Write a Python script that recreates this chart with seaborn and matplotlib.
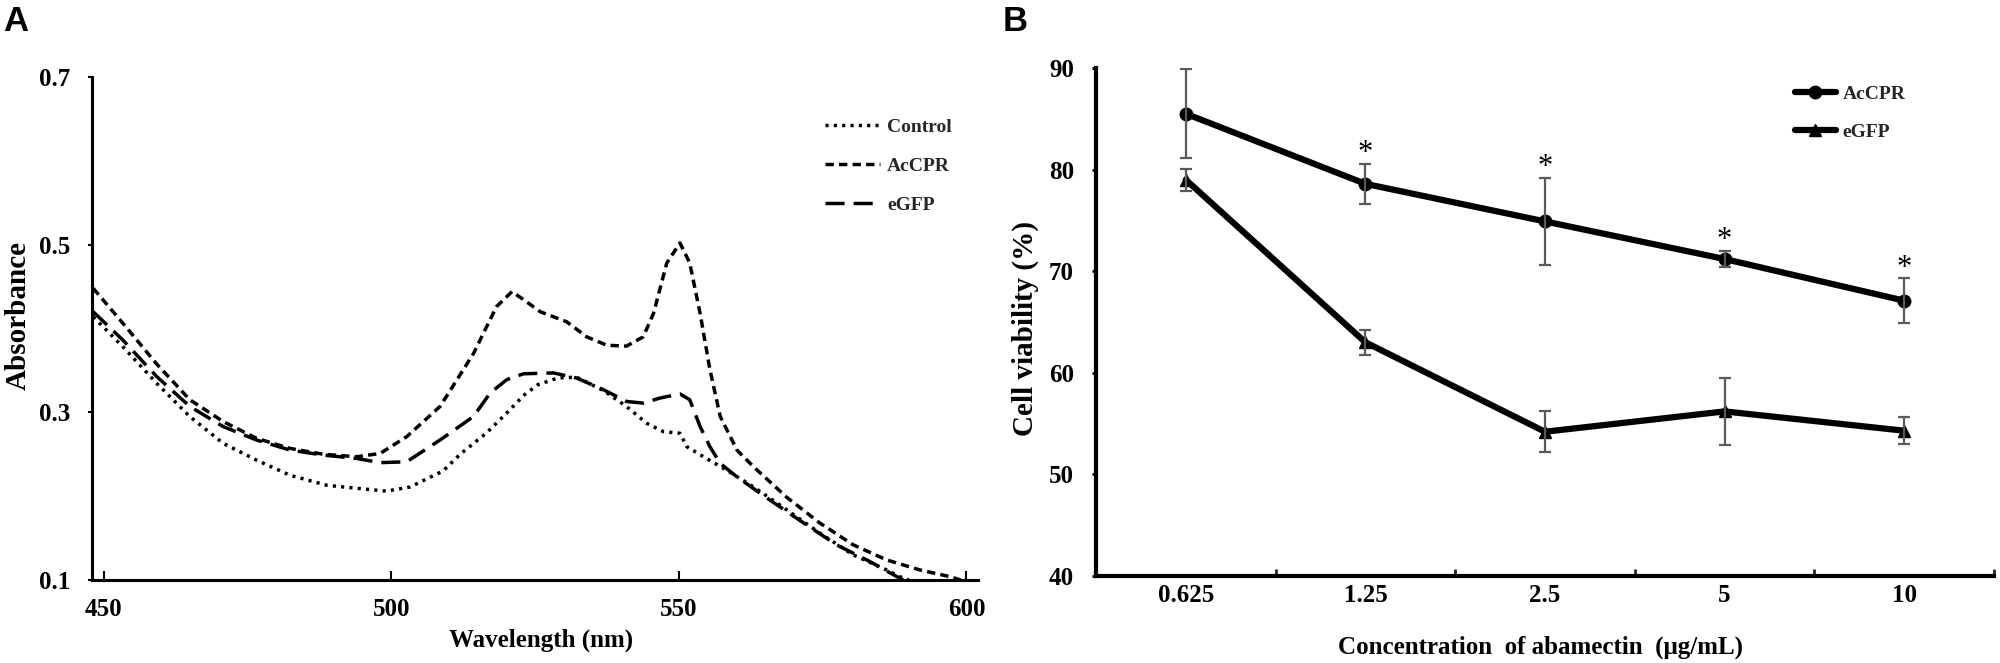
import numpy as np
import pandas as pd
import matplotlib
matplotlib.use("Agg")
import matplotlib.pyplot as plt
import seaborn as sns

# ---------------- Panel A data ----------------
ctrl_wl = [448.2, 453.4, 459.2, 465.0, 470.8, 476.6, 482.4, 488.8, 494.6, 499.2,
           503.3, 509.0, 512.0, 516.5, 520.5, 523.0, 525.5, 529.0, 532.2, 536.9,
           540.9, 544.4, 547.3, 550.2, 551.4, 554.3, 558.3, 563.0, 568.7, 574.5,
           580.3, 586.1, 588.4, 590.0]
ctrl_abs = [0.414, 0.378, 0.335, 0.295, 0.263, 0.243, 0.225, 0.213, 0.209, 0.206,
            0.211, 0.230, 0.250, 0.275, 0.302, 0.320, 0.333, 0.341, 0.342, 0.326,
            0.307, 0.287, 0.277, 0.275, 0.259, 0.247, 0.231, 0.211, 0.184, 0.156,
            0.130, 0.112, 0.104, 0.100]

accpr_wl = [448.2, 453.4, 459.2, 465.0, 470.8, 476.6, 482.4, 488.2, 494.0, 498.1,
            502.7, 508.5, 514.3, 518.3, 521.0, 523.5, 525.9, 530.5, 534.0, 537.5,
            540.9, 543.8, 545.6, 547.9, 550.2, 551.9, 553.7, 555.4, 557.2, 560.1,
            563.0, 568.7, 574.5, 580.3, 586.1, 591.9, 597.1, 599.0]
accpr_abs = [0.448, 0.406, 0.358, 0.315, 0.289, 0.269, 0.257, 0.250, 0.247, 0.251,
             0.271, 0.307, 0.370, 0.426, 0.444, 0.432, 0.420, 0.408, 0.390, 0.380,
             0.379, 0.390, 0.418, 0.478, 0.502, 0.478, 0.418, 0.351, 0.295, 0.255,
             0.235, 0.199, 0.168, 0.142, 0.124, 0.112, 0.104, 0.100]

egfp_wl = [448.2, 453.4, 459.2, 465.0, 470.8, 476.6, 482.4, 488.2, 494.0, 498.1,
           502.7, 508.5, 514.3, 517.2, 520.1, 523.0, 528.2, 532.2, 536.9, 540.9,
           543.8, 546.7, 550.2, 551.9, 553.7, 555.4, 557.2, 560.1, 565.9, 571.7,
           577.4, 583.2, 587.9, 589.0]
egfp_abs = [0.420, 0.386, 0.343, 0.307, 0.283, 0.267, 0.255, 0.249, 0.245, 0.240,
            0.241, 0.267, 0.295, 0.323, 0.339, 0.346, 0.347, 0.341, 0.327, 0.313,
            0.311, 0.317, 0.322, 0.315, 0.283, 0.259, 0.239, 0.223, 0.195, 0.168,
            0.142, 0.122, 0.104, 0.100]

a_series = ["Control", "AcCPR", "eGFP"]
a_xticks = [450, 500, 550, 600]
a_yticks = [0.1, 0.3, 0.5, 0.7]

# ---------------- Panel B data ----------------
concentrations = ["0.625", "1.25", "2.5", "5", "10"]
accpr_mean = [85.5, 78.6, 74.9, 71.2, 67.1]
accpr_err = [4.4, 2.0, 4.3, 0.8, 2.2]
egfp_mean = [79.0, 63.0, 54.2, 56.2, 54.3]
egfp_err = [1.1, 1.2, 2.0, 3.3, 1.35]
significant = [False, True, True, True, True]
b_yticks = [40, 50, 60, 70, 80, 90]

# ---------------- style ----------------
sns.set_theme(style="ticks")
plt.rcParams["font.family"] = ["Liberation Serif", "DejaVu Serif"]
plt.rcParams["font.weight"] = "bold"
plt.rcParams["axes.labelweight"] = "bold"

W, H = 2000, 663
fig = plt.figure(figsize=(W / 100, H / 100), dpi=100)
fig.patch.set_facecolor("white")

def fx(px):
    return px / W

def fy(py):
    return 1 - py / H

# ---------------- Panel A ----------------
axA = fig.add_axes([fx(92), fy(580), fx(978) - fx(92), fy(77) - fy(580)])
dfA = pd.concat([
    pd.DataFrame({"Wavelength": ctrl_wl, "Absorbance": ctrl_abs, "Sample": "Control"}),
    pd.DataFrame({"Wavelength": accpr_wl, "Absorbance": accpr_abs, "Sample": "AcCPR"}),
    pd.DataFrame({"Wavelength": egfp_wl, "Absorbance": egfp_abs, "Sample": "eGFP"}),
], ignore_index=True)

dash_map = {"Control": (0.9, 1.5), "AcCPR": (2.4, 1.5), "eGFP": (5.5, 2.6)}
sns.lineplot(data=dfA, x="Wavelength", y="Absorbance", style="Sample",
             style_order=a_series, dashes=dash_map, color="black",
             linewidth=2.5, estimator=None, sort=False, ax=axA)
for ln in axA.get_lines():
    ln.set_dash_capstyle("butt")

axA.set_xlim(448, 602)
axA.set_ylim(0.1, 0.7)
axA.set_xticks(a_xticks)
axA.set_xticklabels([str(v) for v in a_xticks])
axA.set_yticks(a_yticks)
axA.set_yticklabels([f"{v:.1f}" for v in a_yticks])
axA.tick_params(axis="x", direction="in", length=6.5, width=1.5, pad=13,
                labelsize=18, colors="black")
axA.tick_params(axis="y", direction="out", length=3, width=1.5, pad=13,
                labelsize=18, colors="black")
for lab in axA.get_xticklabels() + axA.get_yticklabels():
    lab.set_fontweight("bold")
sns.despine(ax=axA)
for s in ["left", "bottom"]:
    axA.spines[s].set_linewidth(2.2)
    axA.spines[s].set_color("black")

axA.set_xlabel("Wavelength (nm)", fontsize=18, fontweight="bold", color="black")
axA.set_ylabel("Absorbance", fontsize=21, fontweight="bold", color="black")
axA.xaxis.set_label_coords(0.507, -0.097)
axA.yaxis.set_label_coords(-0.068, 0.526)

hA, lA = axA.get_legend_handles_labels()
axA.legend(hA, lA, loc="upper left", bbox_to_anchor=(fx(825), fy(118)),
           bbox_transform=fig.transFigure, frameon=False, borderpad=0,
           borderaxespad=0, handlelength=2.85, handletextpad=0.35,
           labelspacing=1.1, prop={"family": "Liberation Serif", "weight": "bold", "size": 14})

# ---------------- Panel B ----------------
axB = fig.add_axes([fx(1096), fy(576), fx(1994) - fx(1096), fy(68) - fy(576)])
pos = np.arange(len(concentrations))
dfB = pd.concat([
    pd.DataFrame({"pos": pos, "viability": accpr_mean, "group": "AcCPR"}),
    pd.DataFrame({"pos": pos, "viability": egfp_mean, "group": "eGFP"}),
], ignore_index=True)

sns.lineplot(data=dfB, x="pos", y="viability", style="group",
             style_order=["AcCPR", "eGFP"], markers={"AcCPR": "o", "eGFP": "^"},
             dashes=False, color="black", linewidth=4.5, markersize=9,
             markeredgecolor="black", markeredgewidth=1, estimator=None,
             ax=axB, zorder=2)

for m, e in [(accpr_mean, accpr_err), (egfp_mean, egfp_err)]:
    axB.errorbar(pos, m, yerr=e, fmt="none", ecolor="#5a5a5a", elinewidth=1.6,
                 capsize=4, capthick=1.6, zorder=3)

for i, flag in enumerate(significant):
    if flag:
        axB.text(pos[i], accpr_mean[i] + accpr_err[i] + 0.25, "*",
                 ha="center", va="baseline", fontsize=22, fontweight="normal",
                 family="Liberation Serif", color="black")

axB.set_xlim(-0.5, len(concentrations) - 0.5)
axB.set_ylim(40, 90)
axB.set_xticks(pos)
axB.set_xticklabels(concentrations)
axB.set_xticks(np.arange(-0.5, len(concentrations), 1.0), minor=True)
axB.set_yticks(b_yticks)
axB.set_yticklabels([str(v) for v in b_yticks])
axB.tick_params(axis="x", which="major", length=0, pad=6, labelsize=18, colors="black")
axB.tick_params(axis="x", which="minor", direction="in", length=5, width=2)
axB.tick_params(axis="y", direction="out", length=3, width=2, pad=13,
                labelsize=18, colors="black")
for lab in axB.get_xticklabels() + axB.get_yticklabels():
    lab.set_fontweight("bold")
sns.despine(ax=axB)
for s in ["left", "bottom"]:
    axB.spines[s].set_linewidth(3)
    axB.spines[s].set_color("black")

axB.set_xlabel("Concentration  of abamectin  (μg/mL)", fontsize=18,
               fontweight="bold", color="black")
axB.set_ylabel("Cell viability (%)", fontsize=21, fontweight="bold", color="black")
axB.xaxis.set_label_coords(0.495, -0.118)
axB.yaxis.set_label_coords(-0.064, 0.488)

hB, lB = axB.get_legend_handles_labels()
axB.legend(hB, lB, loc="upper left", bbox_to_anchor=(fx(1795), fy(85)),
           bbox_transform=fig.transFigure, frameon=False, borderpad=0,
           borderaxespad=0, handlelength=2.1, handletextpad=0.35,
           labelspacing=1.05, numpoints=1,
           prop={"family": "Liberation Serif", "weight": "bold", "size": 14})

# ---------------- panel letters ----------------
fig.text(fx(3), fy(5), "A", ha="left", va="top", fontsize=25, fontweight="bold",
         family="Liberation Sans", color="black")
fig.text(fx(1003), fy(5), "B", ha="left", va="top", fontsize=25, fontweight="bold",
         family="Liberation Sans", color="black")

fig.savefig("out.png", dpi=100, facecolor="white")
